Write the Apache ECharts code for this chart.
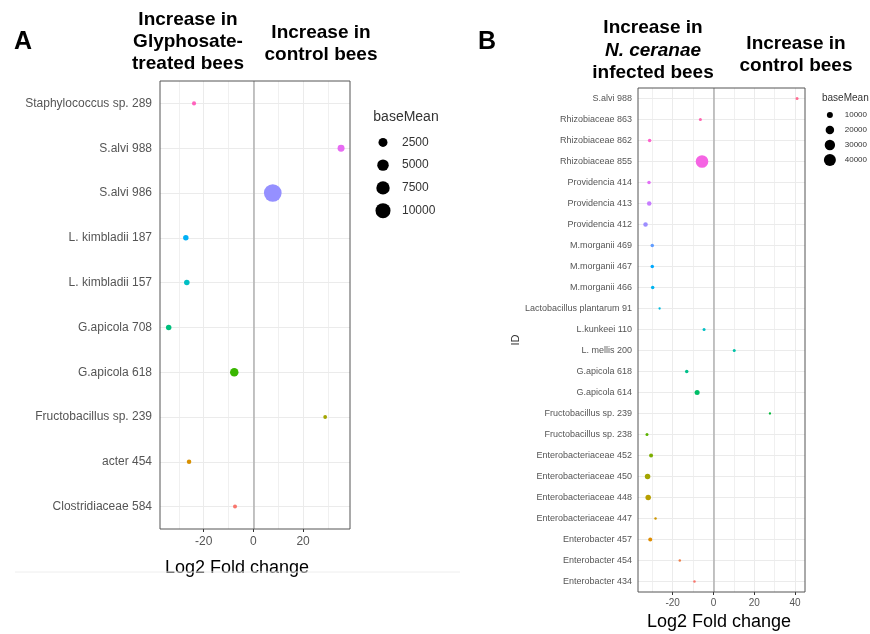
<!DOCTYPE html>
<html>
<head>
<meta charset="UTF-8">
<title>Log2 fold change</title>
<script src="https://cdn.jsdelivr.net/npm/echarts@6/dist/echarts.min.js"></script>
<style>
body { margin: 0; padding: 0; background: #fff; }
#main { width: 870px; height: 634px; }
</style>
</head>
<body>
<div id="main"></div>
<script>
// ---- panel A : glyphosate vs control (top to bottom) ----
var idsA = ['Staphylococcus sp. 289', 'S.alvi 988', 'S.alvi 986', 'L. kimbladii 187', 'L. kimbladii 157',
            'G.apicola 708', 'G.apicola 618', 'Fructobacillus sp. 239', 'acter 454', 'Clostridiaceae 584'];
var lfcA = [-23.9, 35.3, 7.8, -27.2, -26.8, -34.1, -7.7, 28.9, -25.9, -7.4];
var meanA = [80, 1100, 15000, 430, 450, 420, 2100, 40, 160, 70];
var colorsA = ['#FF62BC', '#E76BF3', '#9590FF', '#00B0F6', '#00BFC4', '#00BF7D', '#39B600', '#A3A500', '#D89000', '#F8766D'];
var legendA = [2500, 5000, 7500, 10000];
var ticksA = [-20, 0, 20];

// ---- panel B : N. ceranae vs control (top to bottom) ----
var idsB = ['S.alvi 988', 'Rhizobiaceae 863', 'Rhizobiaceae 862', 'Rhizobiaceae 855', 'Providencia 414',
            'Providencia 413', 'Providencia 412', 'M.morganii 469', 'M.morganii 467', 'M.morganii 466',
            'Lactobacillus plantarum 91', 'L.kunkeei 110', 'L. mellis 200', 'G.apicola 618', 'G.apicola 614',
            'Fructobacillus sp. 239', 'Fructobacillus sp. 238', 'Enterobacteriaceae 452', 'Enterobacteriaceae 450',
            'Enterobacteriaceae 448', 'Enterobacteriaceae 447', 'Enterobacter 457', 'Enterobacter 454', 'Enterobacter 434'];
var lfcB = [41.0, -6.4, -31.3, -5.6, -31.6, -31.5, -33.3, -30.0, -30.0, -29.8, -26.4, -4.6, 10.2, -13.1, -8.0,
            27.7, -32.6, -30.6, -32.3, -32.0, -28.4, -31.0, -16.5, -9.3];
var meanB = [2500, 2500, 3400, 44000, 3400, 5600, 5600, 3400, 3400, 3400, 1500, 2500, 2500, 3400, 7000,
             1500, 2500, 4400, 8400, 8400, 1700, 4400, 1700, 1700];
var colorsB = ['#FF6C91', '#FF64B0', '#FF61CC', '#F564E3', '#E36EF6', '#C77CFF', '#9C8DFF', '#619CFF', '#00A9FF',
               '#00B4F0', '#00BADE', '#00BFC4', '#00C1A7', '#00C08B', '#00BE67', '#00BA38', '#5BB300', '#7CAE00',
               '#A3A500', '#B79F00', '#CD9600', '#DE8C00', '#EF7F49', '#F8766D'];
var legendB = [10000, 20000, 30000, 40000];
var ticksB = [-20, 0, 20, 40];

var FONT = 'Liberation Sans';

function sizeA(v) { return 3 + 0.12 * Math.sqrt(v); }
function sizeB(v) { return Math.max(2, 0.06 * Math.sqrt(v)); }

function points(ids, lfc, mean, colors) {
    return ids.map(function (id, i) {
        return { value: [lfc[i], id, mean[i]], itemStyle: { color: colors[i], opacity: 1 } };
    });
}

function guideLines(ids) {
    // horizontal grid line through each category + the zero line
    var d = ids.map(function (id) { return { yAxis: id }; });
    d.push({ xAxis: 0, lineStyle: { color: '#b0b0b0', width: 1.5 } });
    return d;
}

function plotX(idx, min, max, ticks, fs, margin) {
    return {
        type: 'value', gridIndex: idx, min: min, max: max,
        axisLine: { show: false },
        axisTick: { show: true, length: 3, customValues: ticks, lineStyle: { color: '#333' } },
        axisLabel: { color: '#555', fontFamily: FONT, fontSize: fs, margin: margin, customValues: ticks },
        splitLine: { show: true, lineStyle: { color: '#ebebeb', width: 1 } },
        minorTick: { show: false, splitNumber: 2 },
        minorSplitLine: { show: true, lineStyle: { color: '#f0f0f0', width: 1 } }
    };
}

function plotY(idx, ids, fs, margin) {
    return {
        type: 'category', gridIndex: idx, data: ids, inverse: true,
        axisLine: { show: false },
        axisTick: { show: true, alignWithLabel: true, length: 3, lineStyle: { color: '#333' } },
        axisLabel: { color: '#555', fontFamily: FONT, fontSize: fs, margin: margin },
        splitLine: { show: false }
    };
}

function legendY(idx, breaks, fs, margin) {
    return {
        type: 'category', gridIndex: idx, data: breaks.map(String), inverse: true, position: 'right',
        axisLine: { show: false }, axisTick: { show: false }, splitLine: { show: false },
        axisLabel: { color: '#333', fontFamily: FONT, fontSize: fs, margin: margin, align: 'left' }
    };
}

function legendX(idx) {
    return { type: 'value', gridIndex: idx, min: -1, max: 1, show: false };
}

var chart = echarts.init(document.getElementById('main'));

chart.setOption({
    animation: false,
    backgroundColor: '#fff',
    grid: [
        { left: 160, top: 81, width: 190, height: 448, show: true, z: 10, borderColor: '#555', borderWidth: 1, backgroundColor: 'transparent' },
        { left: 373, top: 131, width: 20, height: 91 },
        { left: 638, top: 88, width: 167, height: 504, show: true, z: 10, borderColor: '#555', borderWidth: 1, backgroundColor: 'transparent' },
        { left: 823, top: 107.5, width: 14, height: 60 }
    ],
    xAxis: [
        plotX(0, -37.6, 38.9, ticksA, 12, 7),
        legendX(1),
        plotX(2, -37, 44.9, ticksB, 10, 6),
        legendX(3)
    ],
    yAxis: [
        plotY(0, idsA, 12, 8),
        legendY(1, legendA, 12, 9),
        Object.assign(plotY(2, idsB, 9, 6), {
            name: 'ID', nameLocation: 'middle', nameRotate: 90, nameGap: 116,
            nameTextStyle: { color: '#333', fontFamily: FONT, fontSize: 11 }
        }),
        legendY(3, legendB, 8, 8)
    ],
    series: [
        {
            type: 'scatter', xAxisIndex: 0, yAxisIndex: 0, z: 3,
            data: points(idsA, lfcA, meanA, colorsA),
            symbolSize: function (val) { return sizeA(val[2]); },
            markLine: {
                silent: true, symbol: 'none', z: 1, animation: false,
                label: { show: false },
                lineStyle: { color: '#ebebeb', width: 1, type: 'solid' },
                data: guideLines(idsA)
            }
        },
        {
            type: 'scatter', xAxisIndex: 1, yAxisIndex: 1,
            data: legendA.map(function (v) { return [0, String(v), v]; }),
            symbolSize: function (val) { return sizeA(val[2]); },
            itemStyle: { color: '#000', opacity: 1 }
        },
        {
            type: 'scatter', xAxisIndex: 2, yAxisIndex: 2, z: 3,
            data: points(idsB, lfcB, meanB, colorsB),
            symbolSize: function (val) { return sizeB(val[2]); },
            markLine: {
                silent: true, symbol: 'none', z: 1, animation: false,
                label: { show: false },
                lineStyle: { color: '#ebebeb', width: 1, type: 'solid' },
                data: guideLines(idsB)
            }
        },
        {
            type: 'scatter', xAxisIndex: 3, yAxisIndex: 3,
            data: legendB.map(function (v) { return [0, String(v), v]; }),
            symbolSize: function (val) { return sizeB(val[2]); },
            itemStyle: { color: '#000', opacity: 1 }
        }
    ],
    graphic: [
        { type: 'text', x: 14, y: 42, style: { text: 'A', font: 'bold 25px ' + FONT, fill: '#000', verticalAlign: 'middle' } },
        { type: 'text', x: 188, y: 9, style: {
            text: 'Increase in\nGlyphosate-\ntreated bees', font: 'bold 19px ' + FONT, fill: '#000',
            align: 'center', lineHeight: 22 } },
        { type: 'text', x: 321, y: 22, style: {
            text: 'Increase in\ncontrol bees', font: 'bold 19px ' + FONT, fill: '#000',
            align: 'center', lineHeight: 22 } },
        { type: 'text', x: 406, y: 117, style: { text: 'baseMean', font: '14px ' + FONT, fill: '#333', align: 'center', verticalAlign: 'middle' } },
        { type: 'text', x: 237, y: 568, style: { text: 'Log2 Fold change', font: '18px ' + FONT, fill: '#000', align: 'center', verticalAlign: 'middle' } },
        { type: 'line', shape: { x1: 15, y1: 572, x2: 460, y2: 572 }, style: { stroke: '#eeeeee', lineWidth: 1 } },

        { type: 'text', x: 478, y: 42, style: { text: 'B', font: 'bold 25px ' + FONT, fill: '#000', verticalAlign: 'middle' } },
        { type: 'text', x: 653, y: 17, style: {
            text: 'Increase in\n{i|N. ceranae}\ninfected bees', font: 'bold 19px ' + FONT, fill: '#000',
            align: 'center', lineHeight: 22.5,
            rich: { i: { fontStyle: 'italic', fontWeight: 'bold', fontSize: 19, fontFamily: FONT, lineHeight: 22.5 } } } },
        { type: 'text', x: 796, y: 33, style: {
            text: 'Increase in\ncontrol bees', font: 'bold 19px ' + FONT, fill: '#000',
            align: 'center', lineHeight: 22 } },
        { type: 'text', x: 822, y: 98, style: { text: 'baseMean', font: '10px ' + FONT, fill: '#333', verticalAlign: 'middle' } },
        { type: 'text', x: 719, y: 622, style: { text: 'Log2 Fold change', font: '18px ' + FONT, fill: '#000', align: 'center', verticalAlign: 'middle' } }
    ]
});
</script>
</body>
</html>
